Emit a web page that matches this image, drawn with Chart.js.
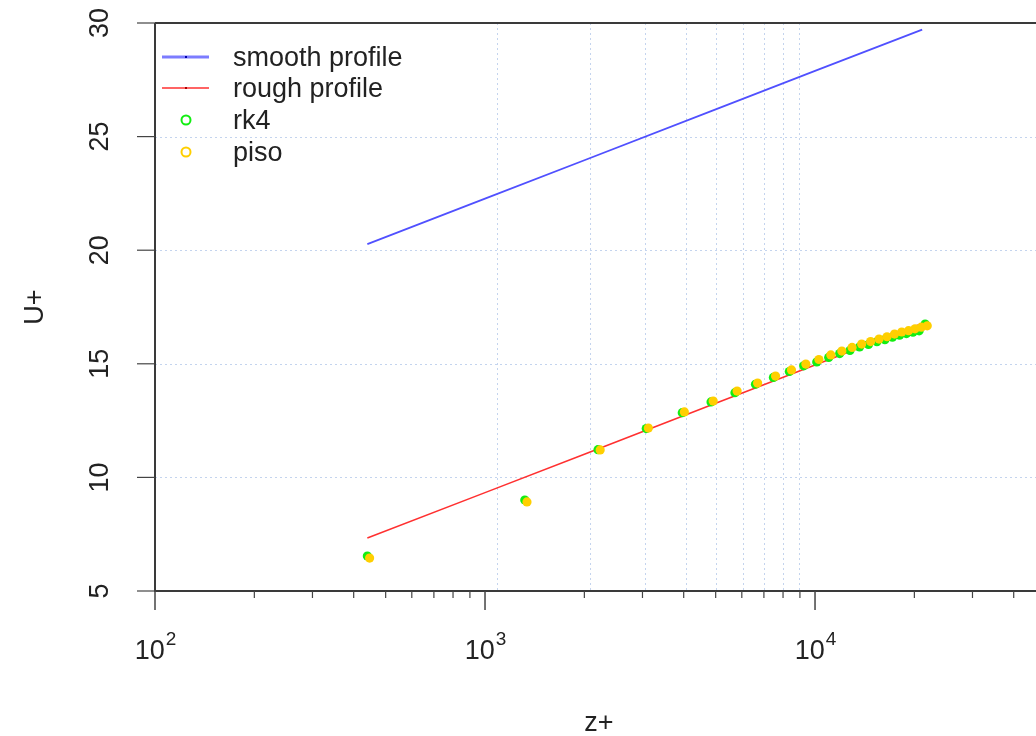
<!DOCTYPE html>
<html>
<head>
<meta charset="utf-8">
<title>U+ profile</title>
<script src="https://cdn.jsdelivr.net/npm/chart.js@4.4.1/dist/chart.umd.min.js"></script>
<style>
  html, body { margin: 0; padding: 0; background: #fff; }
  #wrap { width: 1036px; height: 736px; }
</style>
</head>
<body>
<div id="wrap"><canvas id="profileChart" width="1036" height="736"></canvas></div>
<script>
/* DATA */
let rk4Z  = [440, 1320, 2200, 3080, 3960, 4840, 5720, 6600, 7480, 8360, 9240, 10120, 11000,
             11880, 12760, 13640, 14520, 15400, 16280, 17160, 18040, 18920, 19800, 20680, 21560];
let rk4U  = [6.54, 9.00, 11.22, 12.15, 12.85, 13.32, 13.73, 14.10, 14.40, 14.66, 14.91, 15.08, 15.28,
             15.45, 15.59, 15.74, 15.85, 15.97, 16.06, 16.17, 16.26, 16.33, 16.39, 16.45, 16.75];
let pisoZ = [447, 1340, 2233, 3126, 4019, 4913, 5806, 6699, 7592, 8485, 9379, 10272, 11165,
             12058, 12951, 13845, 14738, 15631, 16524, 17417, 18311, 19204, 20097, 20990, 21883];
let pisoU = [6.45, 8.92, 11.21, 12.17, 12.88, 13.36, 13.80, 14.15, 14.46, 14.73, 14.99, 15.19, 15.39,
             15.56, 15.72, 15.87, 15.98, 16.09, 16.19, 16.31, 16.40, 16.46, 16.54, 16.61, 16.67];

let lineZ   = [440, 1000, 2000, 5000, 10000, 21120];
let smoothU = [20.27, 22.27, 23.96, 26.20, 27.89, 29.71];
let roughU  = [7.33, 9.33, 11.02, 13.26, 14.95, 16.77];

let yTicks = [5, 10, 15, 20, 25, 30];
let xMajor = [100, 1000, 10000];
let xMajorLabels = ["10^2", "10^3", "10^4"];
let xMinor = [200, 300, 400, 500, 600, 700, 800, 900,
              2000, 3000, 4000, 5000, 6000, 7000, 8000, 9000,
              20000, 30000, 40000];
let gridZ = [1090, 2080, 3050, 4060, 5000, 6050, 7000, 8000, 8940];

let legendNames = ["smooth profile", "rough profile", "rk4", "piso"];

const FONT = '"Liberation Sans", Arial, Helvetica, sans-serif';
const BLUE = '#5050ff', RED = '#ff3030', GREEN = '#12ee12', GOLD = '#ffcf00';

function toPoints(xs, ys) {
    return xs.map((v, i) => ({ x: v, y: ys[i] }));
}

function seg(ctx, x1, y1, x2, y2) {
    ctx.beginPath();
    ctx.moveTo(x1, y1);
    ctx.lineTo(x2, y2);
    ctx.stroke();
}

/* R-style frame: grid, axes, ticks, labels, legend */
const rFrame = {
    id: 'rFrame',
    beforeDatasetsDraw(chart) {
        const { ctx, chartArea: a, scales: { x, y } } = chart;
        ctx.save();
        ctx.strokeStyle = '#c4d4ee';
        ctx.lineWidth = 1;
        ctx.setLineDash([2, 3]);
        yTicks.forEach(v => {
            if (v > y.min && v < y.max) {
                let py = Math.round(y.getPixelForValue(v)) + 0.5;
                seg(ctx, a.left, py, a.right, py);
            }
        });
        gridZ.forEach(v => {
            let px = Math.round(x.getPixelForValue(v)) + 0.5;
            seg(ctx, px, a.top, px, a.bottom);
        });
        ctx.restore();
    },
    afterDraw(chart) {
        const { ctx, chartArea: a, scales: { x, y } } = chart;
        ctx.save();

        // box + axes
        ctx.strokeStyle = '#3a3a3a';
        ctx.lineWidth = 2;
        seg(ctx, a.left, a.top, a.right, a.top);
        seg(ctx, a.left, a.top, a.left, a.bottom);
        seg(ctx, a.left - 1, a.bottom, a.right, a.bottom);

        // y ticks + labels
        ctx.lineWidth = 1.2;
        ctx.strokeStyle = '#444';
        ctx.fillStyle = '#222';
        ctx.font = '27px ' + FONT;
        yTicks.forEach(v => {
            let py = y.getPixelForValue(v);
            seg(ctx, a.left - 18, py, a.left, py);
            ctx.save();
            ctx.translate(108, py);
            ctx.rotate(-Math.PI / 2);
            ctx.textAlign = 'center';
            ctx.textBaseline = 'alphabetic';
            ctx.fillText(String(v), 0, 0);
            ctx.restore();
        });

        // x ticks
        xMinor.forEach(v => {
            let px = x.getPixelForValue(v);
            if (px <= a.right) seg(ctx, px, a.bottom, px, a.bottom + 7);
        });
        ctx.lineWidth = 1.5;
        xMajor.forEach((v, i) => {
            let px = x.getPixelForValue(v);
            seg(ctx, px, a.bottom, px, a.bottom + 19);

            let parts = xMajorLabels[i].split('^');
            ctx.font = '27px ' + FONT;
            let wBase = ctx.measureText(parts[0]).width;
            ctx.font = '19px ' + FONT;
            let wExp = ctx.measureText(parts[1]).width;
            let left = px - (wBase + wExp) / 2;
            ctx.textAlign = 'left';
            ctx.textBaseline = 'alphabetic';
            ctx.font = '27px ' + FONT;
            ctx.fillText(parts[0], left, 659);
            ctx.font = '19px ' + FONT;
            ctx.fillText(parts[1], left + wBase + 1, 645);
        });

        // axis titles
        ctx.font = '27px ' + FONT;
        ctx.textAlign = 'center';
        ctx.textBaseline = 'alphabetic';
        ctx.fillText('z+', 599, 731);
        ctx.save();
        ctx.translate(43, (a.top + a.bottom) / 2);
        ctx.rotate(-Math.PI / 2);
        ctx.fillText('U+', 0, 0);
        ctx.restore();

        // legend
        let rows = [57, 88, 120, 152];
        ctx.lineCap = 'butt';
        ctx.strokeStyle = 'rgba(80,80,255,0.75)';
        ctx.lineWidth = 3;
        seg(ctx, 162, rows[0], 209, rows[0]);
        ctx.fillStyle = '#0000aa';
        ctx.fillRect(185, rows[0] - 1, 2, 2);
        ctx.strokeStyle = RED;
        ctx.lineWidth = 1.5;
        seg(ctx, 162, rows[1], 209, rows[1]);
        ctx.fillStyle = '#aa0000';
        ctx.fillRect(185, rows[1] - 1, 2, 2);
        ctx.lineWidth = 2;
        ctx.strokeStyle = GREEN;
        ctx.beginPath(); ctx.arc(186, rows[2], 4.5, 0, Math.PI * 2); ctx.stroke();
        ctx.strokeStyle = GOLD;
        ctx.beginPath(); ctx.arc(186, rows[3], 4.5, 0, Math.PI * 2); ctx.stroke();

        ctx.fillStyle = '#222';
        ctx.font = '27px ' + FONT;
        ctx.textAlign = 'left';
        ctx.textBaseline = 'alphabetic';
        legendNames.forEach((name, i) => {
            ctx.fillText(name, 233, rows[i] + 9);
        });

        ctx.restore();
    }
};

let profileChart = new Chart(document.getElementById('profileChart'), {
    type: 'scatter',
    data: {
        datasets: [
            { label: 'piso', data: toPoints(pisoZ, pisoU), order: 0,
              backgroundColor: GOLD, borderColor: GOLD, pointRadius: 4.6, pointBorderWidth: 0 },
            { label: 'rk4', data: toPoints(rk4Z, rk4U), order: 1,
              backgroundColor: GREEN, borderColor: GREEN, pointRadius: 4.6, pointBorderWidth: 0 },
            { label: 'rough profile', data: toPoints(lineZ, roughU), order: 2, showLine: true,
              borderColor: RED, borderWidth: 1.6, pointRadius: 0, fill: false },
            { label: 'smooth profile', data: toPoints(lineZ, smoothU), order: 3, showLine: true,
              borderColor: BLUE, borderWidth: 1.8, pointRadius: 0, fill: false }
        ]
    },
    options: {
        responsive: false,
        animation: false,
        devicePixelRatio: 1,
        layout: { autoPadding: false, padding: { left: 155, top: 23, right: 0, bottom: 145 } },
        scales: {
            x: { type: 'logarithmic', min: 100, max: 46730, display: false },
            y: { type: 'linear', min: 5, max: 30, display: false }
        },
        plugins: {
            legend: { display: false },
            tooltip: { enabled: false }
        }
    },
    plugins: [rFrame]
});
</script>
</body>
</html>
